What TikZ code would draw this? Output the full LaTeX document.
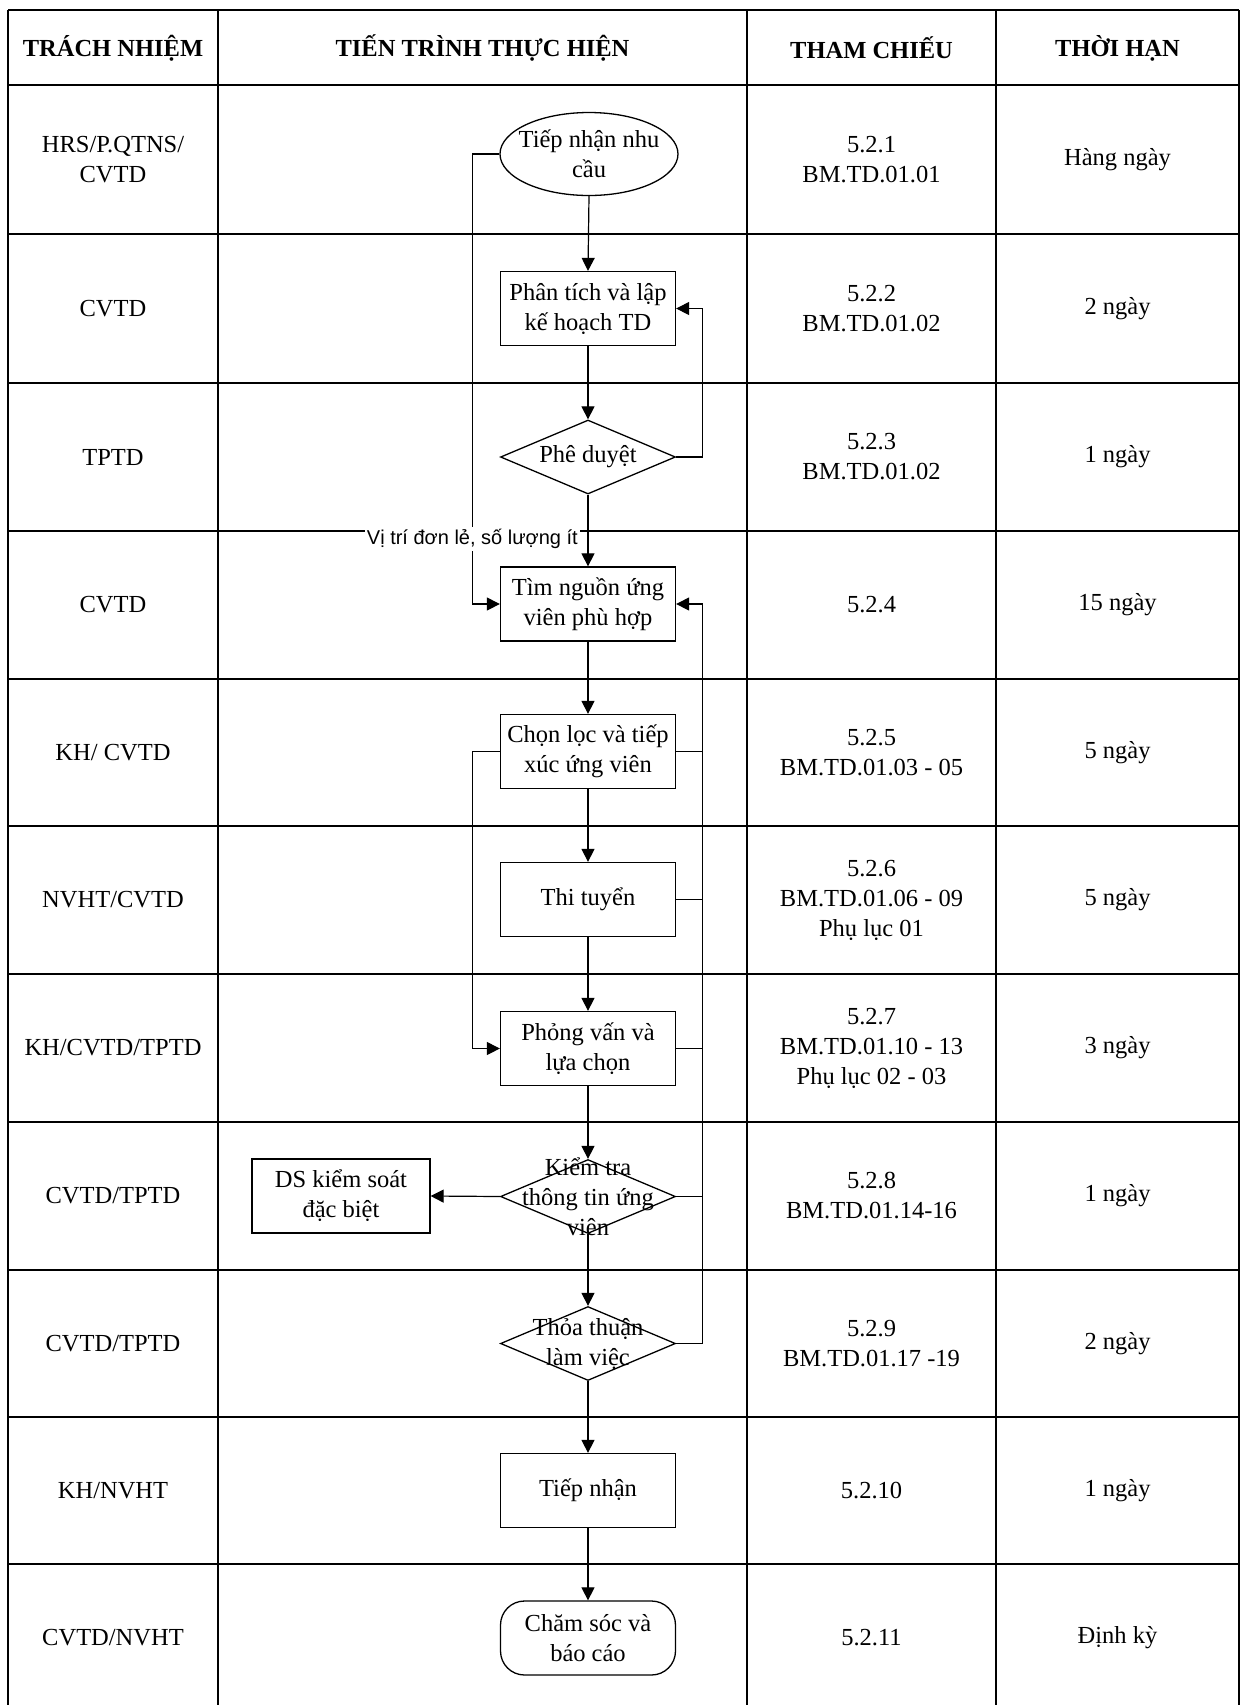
\documentclass[tikz,border=0pt]{standalone}
\usepackage{fontspec}
\setmainfont{Liberation Serif}
\newfontfamily\arialf{Liberation Sans}
\usetikzlibrary{shapes.geometric,arrows.meta}
\begin{document}
\begin{tikzpicture}[x=0.5pt,y=-0.5pt,
  tl/.style={line width=0.8pt},
  txt/.style={font=\fontsize{12.25}{15}\selectfont, align=center, inner sep=0pt},
  hdr/.style={font=\fontsize{12.25}{15}\selectfont\bfseries, align=center, inner sep=0pt},
  proc/.style={draw, line width=0.65pt, minimum width=87.5pt, minimum height=37pt, inner sep=0pt, txt},
  shp/.style={draw, line width=0.65pt, inner sep=0pt},
  dia/.style={shp, diamond, minimum width=87.5pt, minimum height=37pt},
  arr/.style={-{Triangle[length=6.5pt,width=6.5pt]}, line width=0.6pt},
  ln/.style={line width=0.6pt},
  lbl/.style={fill=white, inner sep=1pt, font=\arialf\fontsize{10}{12}\selectfont}
]
\useasboundingbox (0,0) rectangle (1241,1705);
% table grid
\foreach \y in {10,85,234,383,531,679,826,974,1122,1270,1417,1564}
  \draw[tl] (8,\y) -- (1239,\y);
\foreach \x in {8,218,747,996,1239}
  \draw[tl] (\x,10) -- (\x,1705);

% headers
\node[hdr] (h1) at (113,48) {TRÁCH NHIỆM};
\node[hdr] (h2) at (482.5,48) {TIẾN TRÌNH THỰC HIỆN};
\node[hdr] (h3) at (871.5,48) {THAM CHIẾU};
\node[hdr] (h4) at (1117.5,48) {THỜI HẠN};

% column 1
\node[txt] (a1) at (113,159.5) {HRS/P.QTNS/\\CVTD};
\node[txt] (a2) at (113,308.5) {CVTD};
\node[txt] (a3) at (113,457) {TPTD};
\node[txt] (a4) at (113,605) {CVTD};
\node[txt] (a5) at (113,752.5) {KH/ CVTD};
\node[txt] (a6) at (113,900) {NVHT/CVTD};
\node[txt] (a7) at (113,1048) {KH/CVTD/TPTD};
\node[txt] (a8) at (113,1196) {CVTD/TPTD};
\node[txt] (a9) at (113,1343.5) {CVTD/TPTD};
\node[txt] (a10) at (113,1490.5) {KH/NVHT};
\node[txt] (a11) at (113,1638) {CVTD/NVHT};

% column 3
\node[txt] (c1) at (871.5,159.5) {5.2.1\\BM.TD.01.01};
\node[txt] (c2) at (871.5,308.5) {5.2.2\\BM.TD.01.02};
\node[txt] (c3) at (871.5,457) {5.2.3\\BM.TD.01.02};
\node[txt] (c4) at (871.5,605) {5.2.4};
\node[txt] (c5) at (871.5,752.5) {5.2.5\\BM.TD.01.03 - 05};
\node[txt] (c6) at (871.5,900) {5.2.6\\BM.TD.01.06 - 09\\Phụ lục 01};
\node[txt] (c7) at (871.5,1048) {5.2.7\\BM.TD.01.10 - 13\\Phụ lục 02 - 03};
\node[txt] (c8) at (871.5,1196) {5.2.8\\BM.TD.01.14-16};
\node[txt] (c9) at (871.5,1343.5) {5.2.9\\BM.TD.01.17 -19};
\node[txt] (c10) at (871.5,1490.5) {5.2.10};
\node[txt] (c11) at (871.5,1638) {5.2.11};

% column 4
\node[txt] (t1) at (1117.5,159.5) {Hàng ngày};
\node[txt] (t2) at (1117.5,308.5) {2 ngày};
\node[txt] (t3) at (1117.5,457) {1 ngày};
\node[txt] (t4) at (1117.5,605) {15 ngày};
\node[txt] (t5) at (1117.5,752.5) {5 ngày};
\node[txt] (t6) at (1117.5,900) {5 ngày};
\node[txt] (t7) at (1117.5,1048) {3 ngày};
\node[txt] (t8) at (1117.5,1196) {1 ngày};
\node[txt] (t9) at (1117.5,1343.5) {2 ngày};
\node[txt] (t10) at (1117.5,1490.5) {1 ngày};
\node[txt] (t11) at (1117.5,1638) {Định kỳ};

% flow nodes
\node[shp, ellipse, minimum width=89pt, minimum height=41.5pt,
      label={[txt]center:{Tiếp nhận nhu\\cầu}}] (e1) at (589,154) {};
\node[proc] (n2) at (588,308.5) {Phân tích và lập\\kế hoạch TD};
\node[dia, label={[txt]center:{Phê duyệt}}] (d3) at (588,457) {};
\node[proc] (n4) at (588,604) {Tìm nguồn ứng\\viên phù hợp};
\node[proc] (n5) at (588,751.5) {Chọn lọc và tiếp\\xúc ứng viên};
\node[proc] (n6) at (588,899.5) {Thi tuyển};
\node[proc] (n7) at (588,1048.5) {Phỏng vấn và\\lựa chọn};
\node[dia, label={[txt]center:{Kiểm tra\\thông tin ứng\\viên}}] (d8) at (588,1196.5) {};
\node[proc, minimum width=89pt] (ds) at (341,1196) {DS kiểm soát\\đặc biệt};
\node[dia, label={[txt]center:{Thỏa thuận\\làm việc}}] (d9) at (588,1343.5) {};
\node[proc] (n10) at (588,1490.5) {Tiếp nhận};
\node[proc, rounded corners=12pt] (n11) at (588,1638) {Chăm sóc và\\báo cáo};

% main flow
\draw[arr] (e1.south) -- (n2.north);
\draw[arr] (n2.south) -- (d3.north);
\draw[arr] (d3.south) -- (n4.north);
\draw[arr] (n4.south) -- (n5.north);
\draw[arr] (n5.south) -- (n6.north);
\draw[arr] (n6.south) -- (n7.north);
\draw[arr] (n7.south) -- (d8.north);
\draw[arr] (d8.south) -- (d9.north);
\draw[arr] (d9.south) -- (n10.north);
\draw[arr] (n10.south) -- (n11.north);
\draw[arr] (d8.west) -- (ds.east);

% loops
\draw[arr] (d3.east) -- ++(26,0) |- (n2.east);
\draw[arr] (e1.west) -- ++(-27,0) |- node[lbl, pos=0.428] {Vị trí đơn lẻ, số lượng ít} (n4.west);
\draw[arr] (n5.west) -- ++(-27,0) |- (n7.west);
\draw[arr] (d9.east) -- ++(26,0) |- (n4.east);
\draw[ln] (n5.east) -- ++(26,0);
\draw[ln] (n6.east) -- ++(26,0);
\draw[ln] (n7.east) -- ++(26,0);
\draw[ln] (d8.east) -- ++(26,0);
\end{tikzpicture}
\end{document}
